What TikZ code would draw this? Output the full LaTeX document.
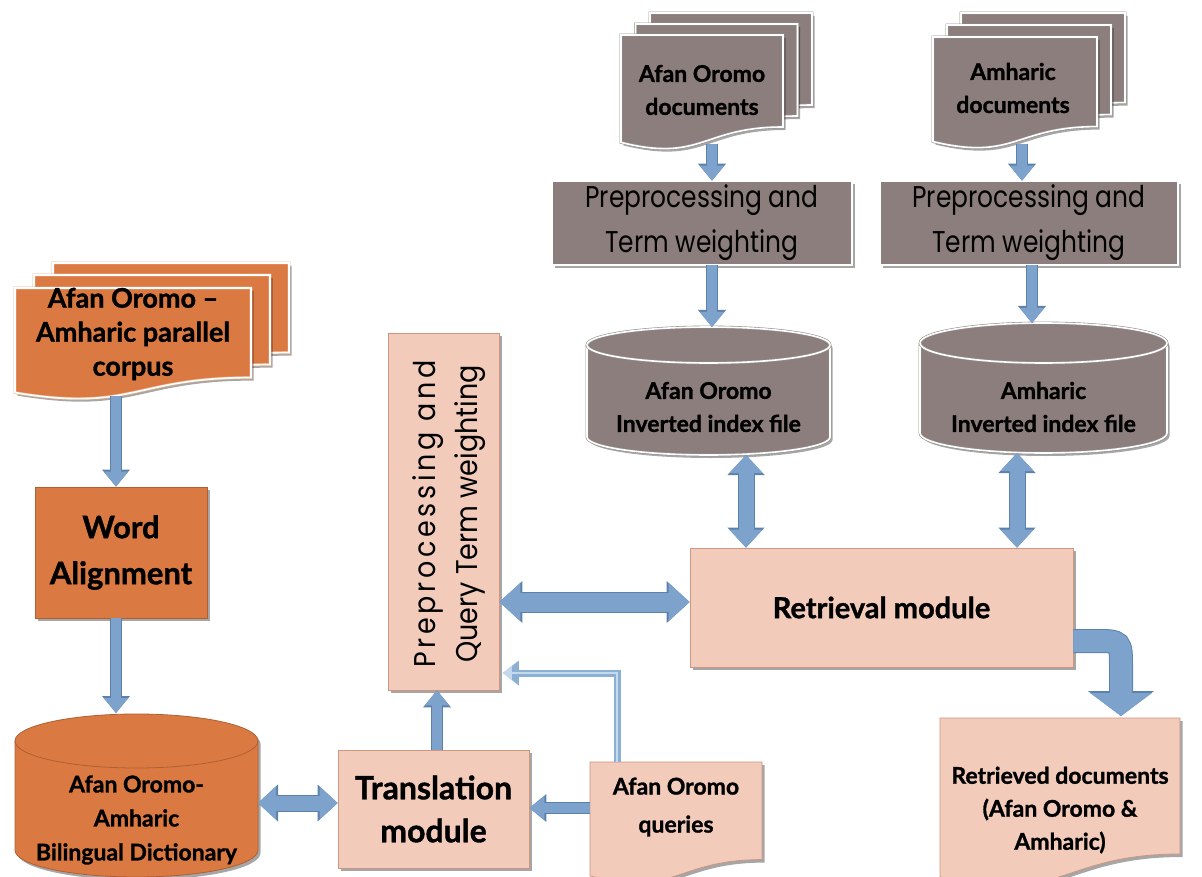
\documentclass[tikz,border=0pt]{standalone}
\usepackage{fontspec}
\usetikzlibrary{arrows.meta,shadows,calc}
\newfontfamily\lblfont{Lato}[FakeBold=1.2]
\newfontfamily\thinfont{Poppins}[FakeStretch=0.83]
\newfontfamily\qfont{Poppins}[FakeStretch=0.9]
\definecolor{grayfill}{RGB}{140,126,125}
\definecolor{grayedge}{RGB}{150,145,145}
\definecolor{orfill}{RGB}{218,122,66}
\definecolor{oredge}{RGB}{175,95,50}
\definecolor{orlight}{RGB}{235,175,140}
\definecolor{pkfill}{RGB}{242,203,187}
\definecolor{pkedge}{RGB}{205,150,128}
\definecolor{arrfill}{RGB}{125,163,204}
\definecolor{arredge}{RGB}{92,130,172}
\definecolor{thinout}{RGB}{140,176,212}
\definecolor{thinin}{RGB}{196,216,238}
\tikzset{
  shad/.style={drop shadow={shadow xshift=2.5pt,shadow yshift=-3pt,opacity=0.35,fill=black}},
  grayshape/.style={fill=grayfill, draw=grayedge, line width=0.6pt, double=white, double distance=1.6pt, shad},
  graytop/.style={draw=grayedge, line width=0.6pt, double=white, double distance=1.6pt},
  graybox/.style={rectangle, grayshape, inner sep=0pt, align=center, text=black,
    font=\thinfont\fontsize{30}{45}\selectfont},
  orshape/.style={fill=orfill, draw=oredge, line width=0.8pt, shad},
  ortop/.style={draw=oredge, line width=0.8pt},
  orshapeW/.style={fill=orfill, draw=orlight, line width=0.6pt, double=white, double distance=1.6pt, shad},
  orbox/.style={rectangle, orshape, inner sep=0pt, align=center},
  pinkshape/.style={fill=pkfill, draw=pkedge, line width=0.8pt, shad},
  pinkbox/.style={rectangle, pinkshape, inner sep=0pt, align=center},
  lbl/.style 2 args={align=center, inner sep=0pt, text=black, font=\lblfont\bfseries\fontsize{#1}{#2}\selectfont},
  arrS/.style={draw=arrfill, line width=10pt, -{Triangle[width=24pt,length=15pt,line width=0pt]},
    preaction={draw=arredge, line width=12pt, -{Triangle[width=28pt,length=17pt,line width=0pt]}}},
  arrMd/.style={draw=arrfill, line width=15pt, {Triangle[width=33pt,length=18pt,line width=0pt]}-{Triangle[width=33pt,length=18pt,line width=0pt]},
    preaction={draw=arredge, line width=17pt, {Triangle[width=37pt,length=20pt,line width=0pt]}-{Triangle[width=37pt,length=20pt,line width=0pt]}}},
  arrLd/.style={draw=arrfill, line width=19pt, {Triangle[width=38pt,length=21pt,line width=0pt]}-{Triangle[width=38pt,length=21pt,line width=0pt]},
    preaction={draw=arredge, line width=21pt, {Triangle[width=42pt,length=23pt,line width=0pt]}-{Triangle[width=42pt,length=23pt,line width=0pt]}}},
  arrC/.style={draw=arrfill, line width=22pt, -{Triangle[width=62pt,length=23pt,line width=0pt]},
    preaction={draw=arredge, line width=24pt, -{Triangle[width=66pt,length=25pt,line width=0pt]}}},
  thinarr/.style={draw=thinin, line width=2.5pt, shorten >=3.5pt, -{Triangle[width=15pt,length=9pt,line width=0pt]},
    preaction={draw=thinout, line width=7pt, -{Triangle[width=25pt,length=16pt,line width=0pt]}}},
}
% document shape: style, x, y, w, h
\newcommand\docshape[5]{%
  \draw[#1] (#2,#3) -- ({#2+#4},#3) -- ({#2+#4},{#3+0.80*#5})
    .. controls ({#2+0.5*#4},{#3+0.80*#5}) and ({#2+0.5*#4},{#3+1.11*#5}) .. (#2,{#3+0.934*#5}) -- cycle;}
% cylinder: body style, top style, x1, x2, top y, bottom y, ry
\newcommand\cylshape[7]{%
  \draw[#1] (#3,#5) -- (#3,#6) arc[start angle=180,end angle=0,x radius={(#4-#3)/2},y radius=#7]
    -- (#4,#5) arc[start angle=0,end angle=-180,x radius={(#4-#3)/2},y radius=#7] -- cycle;
  \draw[#2] (#3,#5) arc[start angle=180,end angle=0,x radius={(#4-#3)/2},y radius=#7];}
\begin{document}
\begin{tikzpicture}[x=1pt,y=-1pt]
\useasboundingbox (0,0) rectangle (1202,877);
\fill[white] (0,0) rectangle (1202,877);

% ---- Afan Oromo documents stack
\docshape{grayshape}{650}{13}{162}{115}
\docshape{grayshape}{635.5}{24}{162}{115}
\docshape{grayshape}{621}{35}{162}{115}
\node[lbl={23}{33}] (aodoc) at (702,90) {Afan Oromo\\documents};
\coordinate (aodocb) at (712,144);

% ---- Amharic documents stack
\docshape{grayshape}{961}{13}{164}{112}
\docshape{grayshape}{947}{25}{164}{112}
\docshape{grayshape}{933}{37}{164}{112}
\node[lbl={23}{33}] (amdoc) at (1013,88) {Amharic\\documents};
\coordinate (amdocb) at (1022,144);

% ---- preprocessing boxes
\node[graybox, minimum width=300pt, minimum height=84pt] (pp1) at (702,223) {Preprocessing and\\Term weighting};
\node[graybox, minimum width=298pt, minimum height=84pt] (pp2) at (1029,223) {Preprocessing and\\Term weighting};

% ---- inverted index cylinders
\cylshape{grayshape}{graytop}{587}{830}{345}{437}{18}
\node[lbl={23}{33}] (aoidx) at (708.5,407) {Afan Oromo\\Inverted index file};
\cylshape{grayshape}{graytop}{920}{1167}{343}{433}{20}
\node[lbl={23}{33}] (amidx) at (1043.5,407) {Amharic\\Inverted index file};
\coordinate (aoidxT) at (712,327);
\coordinate (amidxT) at (1032,323);
\coordinate (aoidxB) at (746,455);
\coordinate (amidxB) at (1017,453);

% ---- retrieval module
\node[pinkbox, minimum width=383pt, minimum height=119pt, lbl={29}{30}] (ret) at (881.5,607.5) {Retrieval module};

% ---- query preprocessing box
\node[pinkbox, minimum width=111pt, minimum height=357pt] (qp) at (443.5,511.5) {};
\node[rotate=90, align=center, inner sep=0pt, text=black, font=\qfont\fontsize{30}{42}\selectfont] (qptext) at (449,514)
  {{\addfontfeature{LetterSpace=12}Preprocessing and}\\Query Term weighting};

% ---- translation module
\node[pinkbox, minimum width=191pt, minimum height=118pt, lbl={32}{43}] (trans) at (433.5,809) {Translation\\module};

% ---- dictionary
\cylshape{orshape}{ortop}{15}{258}{741}{850}{27}
\node[lbl={23}{34}] (dict) at (136.5,820) {Afan Oromo-\\Amharic\\Bilingual Dictionary};
\coordinate (dictR) at (258,803);
\coordinate (dictT) at (116,713);

% ---- word alignment
\node[orbox, minimum width=172pt, minimum height=131pt, lbl={31}{46}] (wa) at (121,552.5) {Word\\Alignment};

% ---- parallel corpus stack
\docshape{orshapeW}{53}{263}{236}{112}
\docshape{orshapeW}{34}{275}{236}{112}
\docshape{orshapeW}{15}{288}{236}{112}
\node[lbl={27}{34}] (corpus) at (133,334) {Afan Oromo –\\Amharic parallel\\corpus};
\coordinate (corpusb) at (116,396);

% ---- queries
\docshape{pinkshape}{590}{762}{172}{122}
\node[lbl={23}{38}] (qry) at (676,807) {Afan Oromo\\queries};
\coordinate (qryL) at (590,808);
\coordinate (qryT) at (617,762);
\coordinate (bendQ) at (617,673);

% ---- retrieved documents
\docshape{pinkshape}{940}{718}{240}{170}
\node[lbl={23}{33}] (rdoc) at (1060,810) {Retrieved documents\\(Afan Oromo \&\\Amharic)};
\coordinate (rdocT) at (1121,716);
\coordinate (retc) at (0,641);
\coordinate (rowA) at (0,602);
\coordinate (upx) at (437,0);

% ---- connectors
\draw[arrS] (aodocb) -- (aodocb |- pp1.north);
\draw[arrS] (amdocb) -- (amdocb |- pp2.north);
\draw[arrS] (pp1.south -| aoidxT) -- (aoidxT);
\draw[arrS] (pp2.south -| amidxT) -- (amidxT);
\draw[arrMd] (aoidxB) -- (aoidxB |- ret.north);
\draw[arrMd] (amidxB) -- (amidxB |- ret.north);
\draw[arrLd] (qp.east |- rowA) -- (ret.west |- rowA);
\draw[arrS] (trans.north -| upx) -- (qp.south -| upx);
\draw[arrMd] (dictR) -- (trans.west |- dictR);
\draw[arrS] (corpusb) -- (corpusb |- wa.north);
\draw[arrS] (wa.south -| dictT) -- (dictT);
\draw[arrS] (qryL) -- (trans.east |- qryL);
\draw[thinarr] (qryT) -- (bendQ) -- (qp.east |- bendQ);
\draw[arrC] (ret.east |- retc) -- ++(22,0) .. controls (1121,641) .. (1121,668) -- (rdocT);
\end{tikzpicture}
\end{document}
